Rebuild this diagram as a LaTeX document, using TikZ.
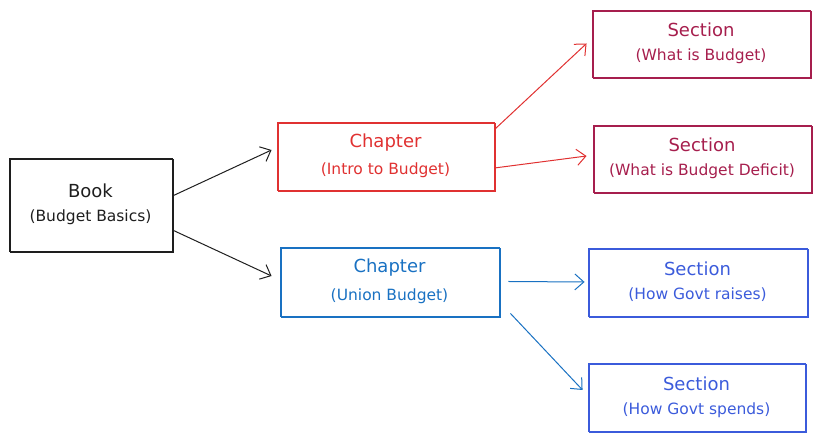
\documentclass[tikz,border=0pt]{standalone}
\usepackage{fontspec}
\setmainfont{DejaVu Sans}
\usetikzlibrary{arrows.meta}
\definecolor{bookink}{HTML}{1E1E1E}
\definecolor{redink}{HTML}{E03131}
\definecolor{pinkink}{HTML}{A61E4D}
\definecolor{blueink}{HTML}{1971C2}
\definecolor{indigoink}{HTML}{3B5BDB}
\newcommand{\boxtext}[2]{\fontsize{18}{21}\selectfont #1\\[11pt]\fontsize{15.5}{17}\selectfont #2}
\begin{document}
\begin{tikzpicture}[x=1pt,y=1pt,>={Straight Barb[length=9pt,width=16pt]},
  box/.style={draw,line width=0.9pt,align=center,inner sep=0pt,
    postaction={draw,line width=0.5pt,transform canvas={shift={(0.9pt,-0.8pt)}}}},
  link/.style={->,line width=1pt}]
\useasboundingbox (0,0) rectangle (820,441);
% book
\node[box,bookink,minimum width=163,minimum height=93] (book) at (90.5,236.5)
  {\boxtext{Book}{(Budget Basics)}};
% chapters
\node[box,redink,minimum width=217,minimum height=68] (ch1) at (385.5,285)
  {\boxtext{Chapter}{(Intro to Budget)}};
\node[box,blueink,minimum width=219,minimum height=69] (ch2) at (389.5,159.5)
  {\boxtext{Chapter}{(Union Budget)}};
% sections
\node[box,pinkink,minimum width=218,minimum height=67] (sec1) at (701,397.5)
  {\boxtext{Section}{(What is Budget)}};
\node[box,pinkink,minimum width=218,minimum height=67] (sec2) at (702,282.5)
  {\boxtext{Section}{(What is Budget Deficit)}};
\node[box,indigoink,minimum width=219,minimum height=68] (sec3) at (697.5,159)
  {\boxtext{Section}{(How Govt raises)}};
\node[box,indigoink,minimum width=217,minimum height=68] (sec4) at (696.5,44)
  {\boxtext{Section}{(How Govt spends)}};
% arrows
\draw[link,bookink] ([yshift=8.5pt]book.east) -- ([xshift=-5pt,yshift=6pt]ch1.west);
\draw[link,bookink] ([yshift=-25.5pt]book.east) -- ([xshift=-8pt,yshift=5.5pt]ch2.west);
\draw[link,redink] ([yshift=-8pt]ch1.north east) -- ([xshift=-5pt]sec1.west);
\draw[link,redink] ([yshift=-12pt]ch1.east) -- ([xshift=-6pt,yshift=2.5pt]sec2.west);
\draw[link,blueink] ([xshift=9pt]ch2.east) -- ([xshift=-3pt]sec3.west);
\draw[link,blueink] ([xshift=11pt,yshift=3pt]ch2.south east) -- ([xshift=-5pt,yshift=7pt]sec4.west);
\end{tikzpicture}
\end{document}
